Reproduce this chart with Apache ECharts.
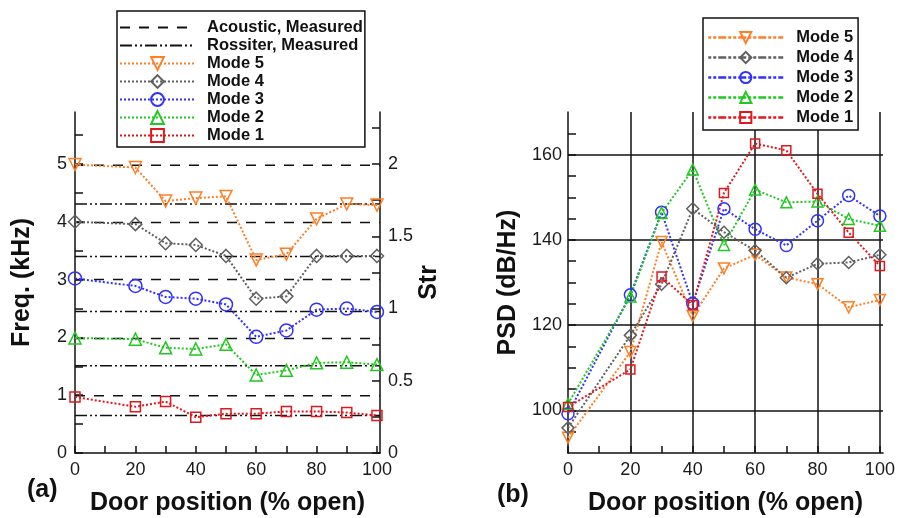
<!DOCTYPE html>
<html>
<head>
<meta charset="utf-8">
<script src="https://cdn.jsdelivr.net/npm/echarts@6/dist/echarts.min.js"></script>
<style>
  html, body { margin: 0; padding: 0; background: #fff; }
  #chart { width: 899px; height: 518px; }
</style>
</head>
<body>
<div id="chart"></div>
<script>
// door opening positions (% open)
const doorPos = [0, 20, 30, 40, 50, 60, 70, 80, 90, 100];

// (a) peak frequencies, kHz
const freqMode5 = [4.99, 4.94, 4.36, 4.41, 4.44, 3.34, 3.44, 4.05, 4.31, 4.29];
const freqMode4 = [4.0, 3.96, 3.63, 3.60, 3.41, 2.67, 2.71, 3.41, 3.41, 3.41];
const freqMode3 = [3.02, 2.89, 2.70, 2.67, 2.57, 2.01, 2.12, 2.48, 2.50, 2.44];
const freqMode2 = [1.99, 1.97, 1.82, 1.80, 1.88, 1.35, 1.43, 1.56, 1.57, 1.53];
const freqMode1 = [0.97, 0.80, 0.89, 0.62, 0.68, 0.68, 0.72, 0.72, 0.70, 0.65];
const acousticFreq = [0.99, 1.98, 3.0, 3.99, 4.98];
const rossiterFreq = [0.65, 1.51, 2.45, 3.40, 4.31];

// (b) PSD levels, dB/Hz
const psdMode5 = [93.6, 113.7, 139.5, 122.1, 133.3, 136.5, 131.2, 129.6, 124.2, 125.9];
const psdMode4 = [95.9, 117.6, 129.6, 147.3, 141.8, 137.5, 131.1, 134.4, 134.7, 136.5];
const psdMode3 = [99.2, 127.1, 146.5, 125.1, 147.3, 142.5, 138.7, 144.5, 150.4, 145.6];
const psdMode2 = [101.5, 126.7, 146.3, 156.5, 138.8, 151.8, 148.8, 149.0, 144.9, 143.3];
const psdMode1 = [100.8, 109.6, 131.4, 124.7, 151.0, 162.6, 161.0, 150.8, 141.7, 133.9];

// tick labels
const doorTicks = [0, 10, 20, 30, 40, 50, 60, 70, 80, 90, 100];
const doorLabels = [0, 20, 40, 60, 80, 100];
const freqTicks = [0, 0.5, 1, 1.5, 2, 2.5, 3, 3.5, 4, 4.5, 5, 5.5];
const freqLabels = [0, 1, 2, 3, 4, 5];
const strTicks = [0, 0.25, 0.5, 0.75, 1, 1.25, 1.5, 1.75, 2, 2.25];
const strLabels = [0, 0.5, 1, 1.5, 2];
const psdTicks = [95, 100, 105, 110, 115, 120, 125, 130, 135, 140, 145, 150, 155, 160, 165];
const psdLabels = [100, 120, 140, 160];
const doorGrid = [20, 40, 60, 80, 100];

const modes = [
  { name: "Mode 5", color: "#ff7f27", symbol: "triangle", rotate: 180, size: 12, a: freqMode5, b: psdMode5 },
  { name: "Mode 4", color: "#606060", symbol: "diamond", rotate: 0, size: 13, a: freqMode4, b: psdMode4 },
  { name: "Mode 3", color: "#3030ff", symbol: "circle", rotate: 0, size: 13, a: freqMode3, b: psdMode3 },
  { name: "Mode 2", color: "#22c822", symbol: "triangle", rotate: 0, size: 12, a: freqMode2, b: psdMode2 },
  { name: "Mode 1", color: "#e0181e", symbol: "rect", rotate: 0, size: 10, a: freqMode1, b: psdMode1 },
];

const FONT = "Liberation Sans, Arial, sans-serif";
const xEnd = 101;

const chart = echarts.init(document.getElementById("chart"));

function tickLabel(extra) {
  return Object.assign({ fontFamily: FONT, fontSize: 18, color: "#1a1a1a" }, extra);
}
const nameStyle = { fontFamily: FONT, fontSize: 25, fontWeight: "bold", color: "#111" };
const axisLine = { show: true, lineStyle: { color: "#111", width: 1.5 } };

function modeSeries(m, which) {
  const vals = which === "a" ? m.a : m.b;
  return {
    name: m.name,
    type: "line",
    xAxisIndex: which === "a" ? 0 : 1,
    yAxisIndex: which === "a" ? 0 : 2,
    data: doorPos.map((x, i) => [x, vals[i]]),
    symbol: m.symbol,
    symbolRotate: m.rotate,
    symbolSize: which === "a" ? m.size : m.size - 1,
    lineStyle: { color: m.color, width: 2, type: [2, 2] },
    itemStyle: { color: "rgba(255,255,255,0)", borderColor: m.color, borderWidth: 1.5 },
    z: 5,
    animation: false,
  };
}

const series = [];
acousticFreq.forEach((v) => {
  series.push({
    name: "Acoustic, Measured",
    type: "line",
    xAxisIndex: 0,
    yAxisIndex: 0,
    data: [[0, v], [xEnd, v]],
    symbol: "circle",
    showSymbol: false,
    lineStyle: { color: "#111", width: 1.5, type: [10, 9] },
    itemStyle: { color: "#111" },
    z: 2,
    animation: false,
  });
});
rossiterFreq.forEach((v) => {
  series.push({
    name: "Rossiter, Measured",
    type: "line",
    xAxisIndex: 0,
    yAxisIndex: 0,
    data: [[0, v], [xEnd, v]],
    symbol: "circle",
    showSymbol: false,
    lineStyle: { color: "#111", width: 1.5, type: [12, 3, 2, 3, 2, 3] },
    itemStyle: { color: "#111" },
    z: 2,
    animation: false,
  });
});
modes.forEach((m) => series.push(modeSeries(m, "a")));
modes.forEach((m) => series.push(modeSeries(m, "b")));

const hiddenIcon = { color: "rgba(0,0,0,0)", borderWidth: 0 };

const option = {
  backgroundColor: "#fff",
  animation: false,
  grid: [
    { left: 75, top: 112, width: 305, height: 341, outerBoundsMode: "none" },
    { left: 568, top: 112, width: 315, height: 341, outerBoundsMode: "none" },
  ],
  legend: [
    {
      orient: "vertical",
      left: 117,
      top: 11,
      itemWidth: 75,
      itemHeight: 16,
      itemGap: 1,
      padding: [8, 2, 3, 2],
      borderColor: "#111",
      borderWidth: 1.5,
      backgroundColor: "#fff",
      selectedMode: false,
      textStyle: { fontFamily: FONT, fontSize: 16.5, fontWeight: "bold", color: "#111", lineHeight: 16, padding: [0, 0, 0, 7] },
      data: [
        { name: "Acoustic, Measured", itemStyle: hiddenIcon },
        { name: "Rossiter, Measured", itemStyle: hiddenIcon },
      ].concat(modes.map((m) => ({ name: m.name }))),
      z: 10,
    },
    {
      orient: "vertical",
      left: 703,
      top: 18,
      itemWidth: 75,
      itemHeight: 14,
      itemGap: 3,
      padding: [11, 5, 4, 4],
      borderColor: "#111",
      borderWidth: 1.5,
      backgroundColor: "#fff",
      selectedMode: false,
      textStyle: { fontFamily: FONT, fontSize: 16.5, fontWeight: "bold", color: "#111", lineHeight: 14, padding: [0, 0, 0, 8] },
      data: modes.map((m) => ({ name: m.name, lineStyle: { type: [3, 2, 3, 2, 8, 2], width: 2.5 } })),
      z: 10,
    },
  ],
  xAxis: [
    {
      type: "value",
      gridIndex: 0,
      min: 0,
      max: xEnd,
      axisLine: axisLine,
      axisTick: { inside: true, length: 7, customValues: doorTicks, lineStyle: { color: "#111", width: 1.5 } },
      axisLabel: tickLabel({ margin: 8, customValues: doorLabels }),
      splitLine: { show: false },
      name: "Door position (% open)",
      nameLocation: "middle",
      nameGap: 38,
      nameTextStyle: nameStyle,
    },
    {
      type: "value",
      gridIndex: 1,
      min: 0,
      max: xEnd,
      axisLine: axisLine,
      axisTick: { inside: true, length: 7, customValues: doorTicks, lineStyle: { color: "#111", width: 1.5 } },
      axisLabel: tickLabel({ margin: 8, customValues: doorLabels }),
      splitLine: { show: false },
      name: "Door position (% open)",
      nameLocation: "middle",
      nameGap: 38,
      nameTextStyle: nameStyle,
    },
    {
      type: "value",
      gridIndex: 1,
      min: 0,
      max: xEnd,
      axisLine: { show: false },
      axisTick: { show: false, customValues: doorGrid },
      axisLabel: { show: false },
      splitLine: { show: true, lineStyle: { color: "#111", width: 1.5 } },
    },
  ],
  yAxis: [
    {
      type: "value",
      gridIndex: 0,
      position: "left",
      min: 0,
      max: 5.9,
      axisLine: axisLine,
      axisTick: { inside: true, length: 8, customValues: freqTicks, lineStyle: { color: "#111", width: 1.5 } },
      axisLabel: tickLabel({ margin: 8, customValues: freqLabels }),
      splitLine: { show: false },
      name: "Freq. (kHz)",
      nameLocation: "middle",
      nameRotate: 90,
      nameGap: 40,
      nameTextStyle: nameStyle,
    },
    {
      type: "value",
      gridIndex: 0,
      position: "right",
      min: 0,
      max: 2.36,
      axisLine: axisLine,
      axisTick: { inside: true, length: 8, customValues: strTicks, lineStyle: { color: "#111", width: 1.5 } },
      axisLabel: tickLabel({ margin: 8, customValues: strLabels }),
      splitLine: { show: false },
      name: "Str",
      nameLocation: "middle",
      nameRotate: 90,
      nameGap: 34,
      nameTextStyle: nameStyle,
    },
    {
      type: "value",
      gridIndex: 1,
      position: "left",
      min: 90,
      max: 170,
      axisLine: axisLine,
      axisTick: { inside: true, length: 8, customValues: psdTicks, lineStyle: { color: "#111", width: 1.5 } },
      axisLabel: tickLabel({ margin: 6, customValues: psdLabels }),
      splitLine: { show: false },
      name: "PSD (dB/Hz)",
      nameLocation: "middle",
      nameRotate: 90,
      nameGap: 47,
      nameTextStyle: nameStyle,
    },
    {
      type: "value",
      gridIndex: 1,
      position: "left",
      min: 90,
      max: 170,
      axisLine: { show: false },
      axisTick: { show: false, customValues: psdLabels },
      axisLabel: { show: false },
      splitLine: { show: true, lineStyle: { color: "#111", width: 1.5 } },
    },
  ],
  graphic: [
    { type: "text", left: 27, top: 478, style: { text: "(a)", font: "bold 25px " + FONT, fill: "#111" } },
    { type: "text", left: 497, top: 483, style: { text: "(b)", font: "bold 25px " + FONT, fill: "#111" } },
  ],
  series: series,
};

chart.setOption(option);
</script>
</body>
</html>
